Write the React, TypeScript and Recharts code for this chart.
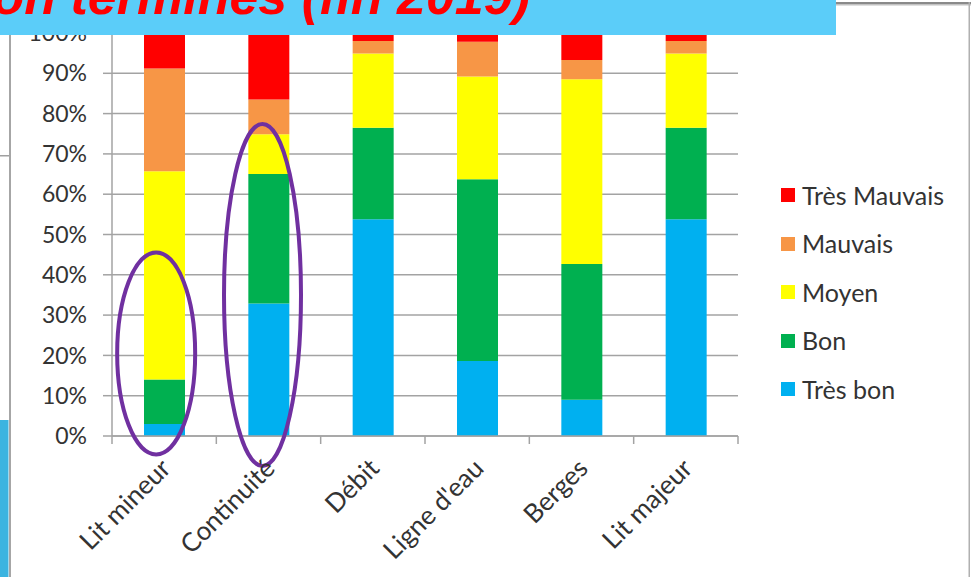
import React from 'react';
import { BarChart, Bar, XAxis, YAxis, CartesianGrid, Legend, ReferenceDot } from 'recharts';

const categories = ['Lit mineur', 'Continuité', 'Débit', "Ligne d'eau", 'Berges', 'Lit majeur'];
const tresBon = [3.0, 32.9, 53.8, 18.6, 9.0, 53.8];
const bon = [11.0, 32.1, 22.7, 45.1, 33.7, 22.7];
const moyen = [51.7, 9.9, 18.4, 25.5, 45.8, 18.4];
const mauvais = [25.5, 8.6, 3.1, 8.6, 4.8, 3.1];
const tresMauvais = [8.8, 16.5, 2.0, 2.2, 6.7, 2.0];
const yTicks = [0, 10, 20, 30, 40, 50, 60, 70, 80, 90, 100];
const seriesNames = ['Très bon', 'Bon', 'Moyen', 'Mauvais', 'Très Mauvais'];
const seriesColors = ['#00B0F0', '#00B050', '#FFFF00', '#F79646', '#FF0000'];
const titleText = 'Restauration terminés (fin 2019)';

const data = categories.map((name, i) => ({
  name,
  tresBon: tresBon[i],
  bon: bon[i],
  moyen: moyen[i],
  mauvais: mauvais[i],
  tresMauvais: tresMauvais[i],
}));
const keys = ['tresBon', 'bon', 'moyen', 'mauvais', 'tresMauvais'];

const W = 971;
const H = 577;
const MARGIN = { top: 33, right: 233, bottom: 41, left: 0 };
const Y_W = 112;
const X_H = 100;
const PLOT_W = W - MARGIN.left - MARGIN.right - Y_W;
const FONT = 'Lato, "Noto Sans", sans-serif';
const TEXT = '#333333';
const GRID = '#A3A3A3';

const XTick = (props: any) => {
  const { x, y, payload, index } = props;
  const band = PLOT_W / categories.length;
  const ax = y - 8;
  const tx = x + 8;
  const ty = y + 26;
  return (
    <g>
      <line x1={x - band / 2} y1={ax} x2={x - band / 2} y2={y} stroke={GRID} strokeWidth={1.5} />
      {index === categories.length - 1 && (
        <line x1={x + band / 2} y1={ax} x2={x + band / 2} y2={y} stroke={GRID} strokeWidth={1.5} />
      )}
      <text
        x={tx}
        y={ty}
        transform={`rotate(-45 ${tx} ${ty})`}
        textAnchor="end"
        fontFamily={FONT}
        fontSize={26}
        fill={TEXT}
      >
        {payload.value}
      </text>
    </g>
  );
};

const LegendContent = (props: any) => {
  const payload = props.payload || [];
  const items = [...seriesNames]
    .reverse()
    .map((n) => payload.find((p: any) => p.value === n))
    .filter(Boolean);
  return (
    <div style={{ fontFamily: FONT, fontSize: 25, color: TEXT }}>
      {items.map((p: any) => (
        <div key={p.value} style={{ display: 'flex', alignItems: 'center', height: 48.5 }}>
          <span style={{ display: 'inline-block', width: 14, height: 14, background: p.color, marginRight: 7 }} />
          <span style={{ lineHeight: '25px' }}>{p.value}</span>
        </div>
      ))}
    </div>
  );
};

const Ellipse = (dx: number, rx: number, ry: number) => (props: any) => (
  <ellipse cx={props.cx + dx} cy={props.cy} rx={rx} ry={ry} fill="none" stroke="#7030A0" strokeWidth={4} />
);

export default function App() {
  return (
    <div style={{ position: 'absolute', left: 0, top: 0, width: W, height: H, overflow: 'hidden', background: '#fff' }}>
      <BarChart width={W} height={H} data={data} margin={MARGIN}>
        <CartesianGrid vertical={false} stroke={GRID} strokeWidth={1.5} />
        <XAxis
          dataKey="name"
          height={X_H}
          tick={<XTick />}
          tickLine={false}
          tickSize={8}
          tickMargin={0}
          interval={0}
          axisLine={{ stroke: GRID, strokeWidth: 1.5 }}
        />
        <YAxis
          width={Y_W}
          domain={[0, 100]}
          ticks={yTicks}
          interval={0}
          tickFormatter={(v: number) => `${v}%`}
          tickSize={9}
          tickMargin={16}
          axisLine={{ stroke: GRID, strokeWidth: 1.5 }}
          tickLine={{ stroke: GRID, strokeWidth: 1.5 }}
          tick={{ fill: TEXT, fontSize: 23, fontFamily: FONT }}
        />
        {keys.map((k, i) => (
          <Bar
            key={k}
            dataKey={k}
            name={seriesNames[i]}
            stackId="a"
            fill={seriesColors[i]}
            barSize={41}
            isAnimationActive={false}
          />
        ))}
        <Legend
          layout="horizontal"
          align="center"
          verticalAlign="middle"
          content={<LegendContent />}
          wrapperStyle={{ position: 'absolute', left: 781, top: 171, width: 190, height: 245 }}
        />
        <ReferenceDot x="Lit mineur" y={20.5} r={1} shape={Ellipse(-8, 39, 101)} ifOverflow="visible" />
        <ReferenceDot x="Continuité" y={35} r={1} shape={Ellipse(-6, 38.5, 171)} ifOverflow="visible" />
      </BarChart>
      <svg width={W} height={H} style={{ position: 'absolute', left: 0, top: 0, pointerEvents: 'none' }}>
        <rect x={0} y={155} width={10} height={1.5} fill="#A0A0A0" />
        <rect x={9} y={0} width={2} height={H} fill="#A6A6A6" />
        <rect x={0} y={420} width={8.5} height={H - 420} fill="#3BB4E0" />
        <rect x={835} y={2} width={W - 835} height={2.5} fill="#8A8A8A" />
        <rect x={835} y={4.5} width={W - 835} height={1} fill="#C0C0C0" />
        <rect x={968.5} y={2} width={1.5} height={H} fill="#B0B0B0" />
        <rect x={0} y={0} width={836} height={35} fill="#5BCDF9" />
        <text
          x={530}
          y={14}
          textAnchor="end"
          fontFamily='"Liberation Sans", Arial, sans-serif'
          fontWeight="bold"
          fontStyle="italic"
          fontSize={52}
          fill="#FF0000"
        >
          {titleText}
        </text>
      </svg>
    </div>
  );
}
